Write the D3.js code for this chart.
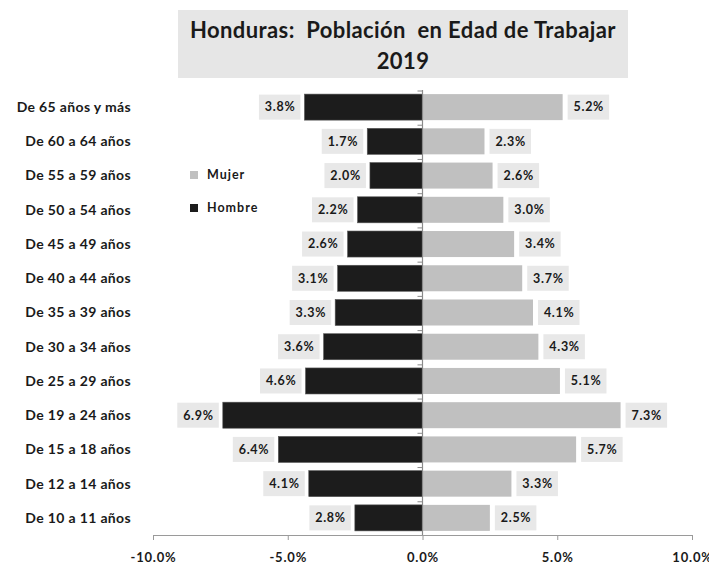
<!DOCTYPE html>
<html><head><meta charset="utf-8">
<script src="https://cdn.jsdelivr.net/npm/d3@7"></script>
<style>body{margin:0;background:#fff}svg{display:block}text{font-family:Lato,"Open Sans",sans-serif;font-weight:700;fill:#1a1a1a}</style>
</head><body><svg id="c" width="709" height="564"></svg>
<script>
const categories = ["De 65 años y más","De 60 a 64 años","De 55 a 59 años","De 50 a 54 años","De 45 a 49 años","De 40 a 44 años","De 35 a 39 años","De 30 a 34 años","De 25 a 29 años","De 19 a 24 años","De 15 a 18 años","De 12 a 14 años","De 10 a 11 años"];
// bar lengths as drawn in the picture (%)
const hombreBars = [4.38,2.05,1.95,2.41,2.78,3.15,3.24,3.67,4.34,7.41,5.35,4.22,2.51];
const mujerBars  = [5.2,2.3,2.6,3.0,3.4,3.7,4.1,4.3,5.1,7.35,5.7,3.3,2.5];
// data labels as printed
const hombreLabels = ["3.8%","1.7%","2.0%","2.2%","2.6%","3.1%","3.3%","3.6%","4.6%","6.9%","6.4%","4.1%","2.8%"];
const mujerLabels  = ["5.2%","2.3%","2.6%","3.0%","3.4%","3.7%","4.1%","4.3%","5.1%","7.3%","5.7%","3.3%","2.5%"];
const xTicks = [-10,-5,0,5,10];
const xTickLabels = ["-10.0%","-5.0%","0.0%","5.0%","10.0%"];
const titleLines = ["Honduras:  Población  en Edad de Trabajar","2019"];
const legendItems = [{name:"Mujer",color:"#c0c0c0"},{name:"Hombre",color:"#1c1c1c"}];

const svg = d3.select("#c");
const x = d3.scaleLinear().domain([-10,10]).range([153,692]);
const y = d3.scaleBand().domain(categories).range([90,535]).paddingInner(0.24).paddingOuter(0.12);

// title
svg.append("rect").attr("x",178).attr("y",10).attr("width",450).attr("height",68).attr("fill","#e6e6e6");
svg.selectAll("text.title").data(titleLines).join("text").attr("class","title")
  .attr("x",403).attr("y",(d,i)=>38+i*31).attr("text-anchor","middle")
  .style("font-size","22px").style("letter-spacing","0.4px").style("white-space","pre").text(d=>d);

// bars
const rows = categories.map((c,i)=>({c,h:hombreBars[i],m:mujerBars[i],hl:hombreLabels[i],ml:mujerLabels[i]}));
svg.selectAll("rect.h").data(rows).join("rect").attr("class","h")
  .attr("x",d=>x(-d.h)).attr("width",d=>x(0)-x(-d.h))
  .attr("y",d=>y(d.c)).attr("height",y.bandwidth()).attr("fill","#1c1c1c").attr("stroke","#555").attr("stroke-width",0.6);
svg.selectAll("rect.m").data(rows).join("rect").attr("class","m")
  .attr("x",x(0)).attr("width",d=>x(d.m)-x(0))
  .attr("y",d=>y(d.c)).attr("height",y.bandwidth()).attr("fill","#c0c0c0");

// center axis
svg.append("line").attr("x1",x(0)).attr("x2",x(0)).attr("y1",90).attr("y2",535).attr("stroke","#8a8a8a").attr("stroke-width",1.2);
const bounds = d3.range(categories.length).map(i=>90+i*y.step());
svg.selectAll("line.ct").data(bounds).join("line").attr("class","ct")
  .attr("x1",x(0)-5).attr("x2",x(0)).attr("y1",d=>d+1).attr("y2",d=>d+1).attr("stroke","#8a8a8a");

// category labels
svg.selectAll("text.cat").data(categories).join("text").attr("class","cat")
  .attr("x",131).attr("y",d=>y(d)+y.bandwidth()/2).attr("dy","0.35em").attr("text-anchor","end")
  .style("font-size","14px").style("letter-spacing","0.35px").text(d=>d);

// data labels
function labelGroup(cls, xpos, anchorRight, key){
  const g = svg.selectAll("g."+cls).data(rows).join("g").attr("class",cls);
  g.append("text").style("font-size","12.5px").style("letter-spacing","0.7px").attr("text-anchor","middle").attr("dy","0.35em").text(d=>d[key]);
  g.each(function(d){
    const tw = this.querySelector("text").getComputedTextLength();
    const w = tw+11, h = y.bandwidth()-1;
    const x0 = anchorRight ? xpos(d)-w : xpos(d);
    const cy = y(d.c)+y.bandwidth()/2;
    d3.select(this).insert("rect","text").attr("x",x0).attr("y",cy-h/2).attr("width",w).attr("height",h).attr("fill","#e8e8e8");
    d3.select(this).select("text").attr("x",x0+w/2+0.4).attr("y",cy);
  });
}
labelGroup("hl", d=>x(-d.h)-4, true, "hl");
labelGroup("ml", d=>x(d.m)+5, false, "ml");

// x axis
const xAxis = d3.axisBottom(x).tickValues(xTicks).tickSize(5).tickFormat((d,i)=>xTickLabels[i]);
const ax = svg.append("g").attr("transform","translate(0,535)").call(xAxis);
ax.select(".domain").attr("stroke","#9a9a9a");
ax.selectAll(".tick line").attr("stroke","#9a9a9a");
ax.selectAll(".tick text").attr("y",18).style("font-size","13px").style("letter-spacing","0.8px")
  .style("font-family","Lato,'Open Sans',sans-serif").style("font-weight","700").attr("fill","#1a1a1a");

// legend
const lg = svg.selectAll("g.lg").data(legendItems).join("g").attr("class","lg")
  .attr("transform",(d,i)=>`translate(190,${175+i*33})`);
lg.append("rect").attr("x",0).attr("y",-4).attr("width",8).attr("height",8).attr("fill",d=>d.color);
lg.append("text").attr("x",17).attr("dy","0.35em").style("font-size","12.5px").style("letter-spacing","1px").text(d=>d.name);
</script></body></html>
